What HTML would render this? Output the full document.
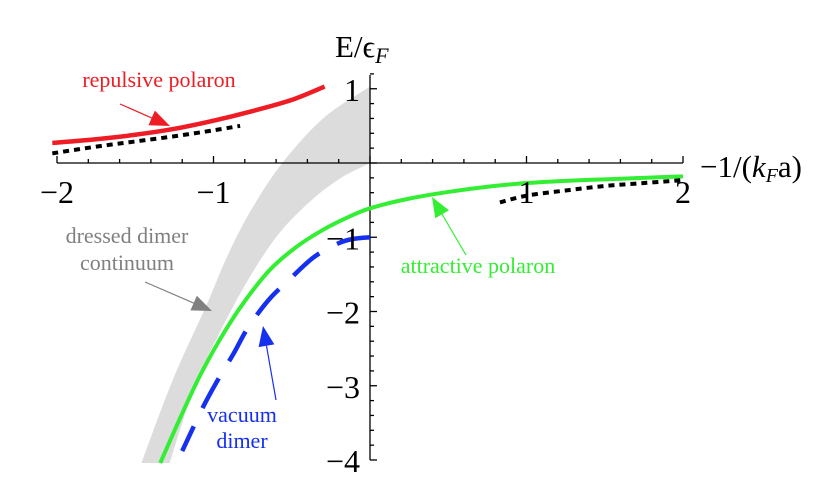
<!DOCTYPE html>
<html><head><meta charset="utf-8"><style>
body{margin:0;background:#fff}
svg{display:block}
text{font-family:"Liberation Serif",serif}
</style></head><body>
<svg id="chart" width="840" height="498" viewBox="0 0 840 498"></svg>
<script>
const xTickLabels=["-2","-1","1","2"];
const xTickVals=[-2,-1,1,2];
const yTickVals=[1,-1,-2,-3,-4];
const yTickLabels=["1","-1","-2","-3","-4"];
const repX=[-2.03,-1.75,-1.5,-1.25,-1,-0.75,-0.5,-0.29];
const repY=[0.27,0.32,0.38,0.46,0.57,0.7,0.85,1.03];
const repDotX=[-2.03,-1.75,-1.5,-1.25,-1,-0.83];
const repDotY=[0.13,0.22,0.29,0.36,0.44,0.5];
const attX=[-1.34,-1.21,-1.09,-0.96,-0.81,-0.64,-0.47,-0.3,-0.15,0,0.25,0.5,0.75,1,1.25,1.5,1.75,2];
const attY=[-4.04,-3.42,-2.88,-2.38,-1.89,-1.44,-1.13,-0.9,-0.74,-0.61,-0.48,-0.39,-0.32,-0.27,-0.24,-0.22,-0.2,-0.18];
const attDotX=[0.83,1,1.25,1.5,1.75,2];
const attDotY=[-0.53,-0.44,-0.37,-0.31,-0.27,-0.23];
const dimX=[0,-0.1,-0.2,-0.36,-0.52,-0.65,-0.78,-0.87,-0.98,-1.07,-1.16,-1.2];
const dimY=[-1.0,-1.02,-1.08,-1.27,-1.58,-1.85,-2.22,-2.56,-2.95,-3.3,-3.7,-3.88];
const bandLeftX=[-1.46,-1.26,-1.04,-0.9,-0.75,-0.56,-0.3,0];
const bandLeftY=[-4.04,-2.92,-1.89,-1.2,-0.6,0,0.6,1.03];
const bandRightX=[0,-0.2,-0.4,-0.6,-0.8,-1.0,-1.13,-1.28];
const bandRightY=[0,-0.22,-0.55,-1.0,-1.65,-2.45,-3.06,-4.04];

const X=v=>370+v*156.5, Y=v=>163-v*74.25;
const NS="http://www.w3.org/2000/svg";
const svg=document.getElementById('chart');
function mk(t,a,p){const e=document.createElementNS(NS,t);for(const k in a)e.setAttribute(k,a[k]);(p||svg).appendChild(e);return e;}
function segs(xs,ys){const P=xs.map((x,i)=>[X(x),Y(ys[i])]);let d="";
 for(let i=0;i<P.length-1;i++){const p0=P[Math.max(0,i-1)],p1=P[i],p2=P[i+1],p3=P[Math.min(P.length-1,i+2)];
 const c1=[p1[0]+(p2[0]-p0[0])/6,p1[1]+(p2[1]-p0[1])/6],c2=[p2[0]-(p3[0]-p1[0])/6,p2[1]-(p3[1]-p1[1])/6];
 d+=" C"+c1+" "+c2+" "+p2;}return {start:P[0],d:d};}
function spline(xs,ys){const s=segs(xs,ys);return "M"+s.start+s.d;}

// band
const bl=segs(bandLeftX,bandLeftY),br=segs(bandRightX,bandRightY);
const band=mk('path',{d:"M"+bl.start+bl.d+" L"+br.start+br.d+"Z",fill:"#dcdcdc"});



// axes
const ax=mk('g',{stroke:"#000","stroke-width":1.3,fill:"none"});


mk('line',{x1:X(-2),y1:163,x2:X(2),y2:163},ax);
mk('line',{x1:370,y1:75,x2:370,y2:460},ax);
for(let i=-10;i<=10;i++){const v=i/5,maj=i%5==0;mk('line',{x1:X(v),y1:163,x2:X(v),y2:163-(maj?7:4)},ax);}
for(let i=-20;i<=6;i++){const v=i/5,maj=i%5==0;mk('line',{x1:370,y1:Y(v),x2:370+(maj?7:4),y2:Y(v)},ax);}

// curves
function curve(xs,ys,col,w,dash,name){const p=mk('path',{d:spline(xs,ys),stroke:col,"stroke-width":w,fill:"none"});if(dash)p.setAttribute('stroke-dasharray',dash);

}
curve(attX,attY,"#33ee33",4,null,"attractive-polaron-curve");
curve(dimX,dimY,"#1530ee",4.5,"34,20","vacuum-dimer-curve");
curve(repX,repY,"#ee1c24",4.5,null,"repulsive-polaron-curve");
curve(repDotX,repDotY,"#000",4,"6,5","repulsive-approx-dotted");
curve(attDotX,attDotY,"#000",4,"6,5","attractive-approx-dotted");

// tick labels
xTickVals.forEach((v,i)=>{const t=mk('text',{x:X(v),y:203,"font-size":32,"text-anchor":"middle"});t.textContent=xTickLabels[i].replace('-','\u2212');

});
yTickVals.forEach((v,i)=>{const t=mk('text',{x:360,y:Y(v)+12,"font-size":32,"text-anchor":"end"});t.textContent=yTickLabels[i].replace('-','\u2212');

});

// annotations
function label(x,y,s,col,name){const t=mk('text',{x:x,y:y,fill:col,"font-size":22,"text-anchor":"middle"});t.textContent=s;

}
function arrow(x1,y1,x2,y2,col,name){const g=mk('g',{});
const a=Math.atan2(y2-y1,x2-x1),l=20,w=8;const bx=x2-l*Math.cos(a),by=y2-l*Math.sin(a);
mk('line',{x1:x1,y1:y1,x2:bx,y2:by,stroke:col,"stroke-width":1.2},g);
mk('polygon',{points:`${x2},${y2} ${bx-w*Math.sin(a)},${by+w*Math.cos(a)} ${bx+w*Math.sin(a)},${by-w*Math.cos(a)}`,fill:col},g);}
label(159,87,"repulsive polaron","#ee1c24","repulsive-polaron-label");
arrow(120,104,170,126,"#ee1c24","repulsive-polaron-arrow");
label(127,243,"dressed dimer","#808080","dressed-dimer-label");
label(127,270,"continuum","#808080","continuum-label");
arrow(145,282,212,311,"#808080","continuum-arrow");
label(478,273,"attractive polaron","#33ee33","attractive-polaron-label");
arrow(466,255,432,197,"#33ee33","attractive-polaron-arrow");
label(242,422,"vacuum","#1530ee","vacuum-label");
label(242,448,"dimer","#1530ee","dimer-label");
arrow(276,400,263,326,"#1530ee","vacuum-dimer-arrow");

// axis titles
const yt=mk('text',{x:335,y:57,"font-size":31});yt.innerHTML='E/ϵ<tspan font-style="italic" font-size="22" dy="6">F</tspan>';


const xt=mk('text',{x:700,y:177,"font-size":31});xt.innerHTML='\u22121/(<tspan font-style="italic">k</tspan><tspan font-style="italic" font-size="20" dy="5">F</tspan><tspan dy="-5">a)</tspan>';


</script>
</body></html>
